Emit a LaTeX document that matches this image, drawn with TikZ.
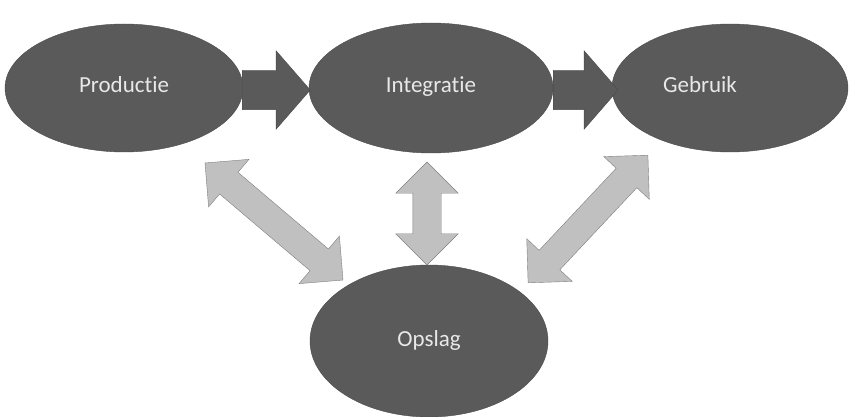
\documentclass[tikz,border=0pt]{standalone}
\usepackage{fontspec}
\setmainfont{Carlito}[Ligatures=NoCommon]
\usepackage{xcolor}
\usepackage{tikz}
\usetikzlibrary{shapes.geometric,shapes.arrows}
\definecolor{darkfill}{HTML}{5A5A5A}
\definecolor{darkline}{HTML}{4A4A4A}
\definecolor{lightfill}{HTML}{C0C0C0}
\definecolor{lightline}{HTML}{7F7F7F}
\definecolor{labeltext}{HTML}{E8E8E8}

\begin{document}
\begin{tikzpicture}[
    x=1pt, y=1pt,
    blob/.style={
        ellipse,
        draw=darkline,
        fill=darkfill,
        text=labeltext,
        inner sep=0pt,
        text height=14pt,
        text depth=4pt,
        font=\fontsize{23}{27}\selectfont
    },
    flowarrow/.style={
        single arrow,
        draw=darkline,
        fill=darkfill,
        inner xsep=0pt,
        inner ysep=19.5pt,
        minimum height=68,
        single arrow head extend=19.5,
        single arrow tip angle=98,
        anchor=tail
    },
    linkarrow/.style={
        double arrow,
        draw=lightline,
        fill=lightfill,
        inner xsep=0pt,
        inner ysep=14pt,
        double arrow head extend=17,
        double arrow tip angle=90
    }
]
\useasboundingbox (0,0) rectangle (849,-417);

% the four parts
\node[blob, minimum width=238, minimum height=128] (prod) at (124,-88) {Productie};
\node[blob, minimum width=244, minimum height=130] (integ) at (431,-88) {Integratie};
\node[blob, minimum width=236, minimum height=128,
      label={[text=labeltext, text height=14pt, text depth=4pt, inner sep=0pt,
              font=\fontsize{23}{27}\selectfont, xshift=-30]center:Gebruik}]
      (gebruik) at (730,-88) {};
\node[blob, minimum width=238, minimum height=152] (opslag) at (429,-341) {Opslag};

% flow from left to right
\node[flowarrow] (p2i) at (242,-90) {};
\node[flowarrow, minimum height=65] (i2g) at (553,-90) {};

% links with the storage
\node[linkarrow, minimum height=181, rotate=-40.3] (p2o) at (274,-221.5) {};
\node[linkarrow, minimum height=103, rotate=90] (i2o) at (427,-213.5) {};
\node[linkarrow, minimum height=175, rotate=46.8] (g2o) at (588,-219) {};

\end{tikzpicture}
\end{document}
